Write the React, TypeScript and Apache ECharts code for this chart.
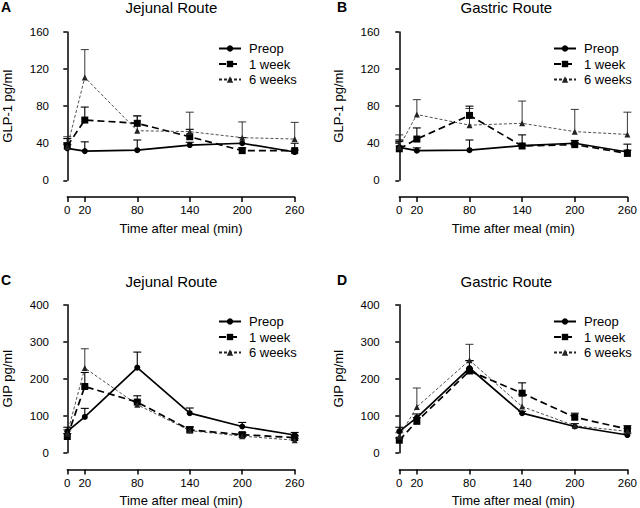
import React, { useEffect, useRef } from "react";
import * as echarts from "echarts";

const times = [0, 20, 80, 140, 200, 260];
const xTicks = [0, 20, 80, 140, 200, 260];
const seriesNames = ["Preop", "1 week", "6 weeks"];

// Panel A: GLP-1, jejunal route
const glpJejPreop = [34.5, 31.5, 32.5, 38, 40, 30.5];
const glpJejPreopErr = [4, 10, 11, 3, 6, 2];
const glpJejWeek1 = [37, 65, 61.5, 47, 32, 32];
const glpJejWeek1Err = [8, 14, 8, 8, 3, 8];
const glpJejWeek6 = [36, 111, 53.5, 52.5, 46, 44.5];
const glpJejWeek6Err = [11, 30, 16, 21, 17, 18];

// Panel B: GLP-1, gastric route
const glpGasPreop = [35.5, 32, 32.5, 37.5, 40, 30.5];
const glpGasPreopErr = [8, 3, 11, 11.5, 3, 2];
const glpGasWeek1 = [34, 44.5, 70, 37, 38.5, 29];
const glpGasWeek1Err = [8, 12, 10, 2, 2, 10];
const glpGasWeek6 = [36, 71, 59.5, 61.5, 52.5, 49.5];
const glpGasWeek6Err = [13, 16, 18, 24, 24, 24];

// Panel C: GIP, jejunal route
const gipJejPreop = [58, 97, 230, 107, 71, 48];
const gipJejPreopErr = [11, 23, 42, 14, 11, 7];
const gipJejWeek1 = [44, 179, 137, 62, 49, 41];
const gipJejWeek1Err = [8, 38, 17, 7, 6, 5];
const gipJejWeek6 = [52, 229, 130, 60, 45, 34];
const gipJejWeek6Err = [10, 52, 10, 11, 6, 5];

// Panel D: GIP, gastric route
const gipGasPreop = [58, 95, 229, 107, 71, 48];
const gipGasPreopErr = [11, 10, 20, 5, 8, 5];
const gipGasWeek1 = [34, 85, 221, 161, 96, 64];
const gipGasWeek1Err = [6, 10, 28, 28, 11, 9];
const gipGasWeek6 = [44, 124, 250, 125, 73, 58];
const gipGasWeek6Err = [10, 51, 43, 33, 6, 8];

const FONT = "Liberation Sans, Arial, sans-serif";

type Panel = {
  letter: string;
  title: string;
  yName: string;
  yMax: number;
  yInterval: number;
  left: number;
  top: number;
  vals: number[][];
  errs: number[][];
};

const panels: Panel[] = [
  { letter: "A", title: "Jejunal Route", yName: "GLP-1 pg/ml", yMax: 160, yInterval: 40, left: 0, top: 0,
    vals: [glpJejPreop, glpJejWeek1, glpJejWeek6], errs: [glpJejPreopErr, glpJejWeek1Err, glpJejWeek6Err] },
  { letter: "B", title: "Gastric Route", yName: "GLP-1 pg/ml", yMax: 160, yInterval: 40, left: 1, top: 0,
    vals: [glpGasPreop, glpGasWeek1, glpGasWeek6], errs: [glpGasPreopErr, glpGasWeek1Err, glpGasWeek6Err] },
  { letter: "C", title: "Jejunal Route", yName: "GIP pg/ml", yMax: 400, yInterval: 100, left: 0, top: 1,
    vals: [gipJejPreop, gipJejWeek1, gipJejWeek6], errs: [gipJejPreopErr, gipJejWeek1Err, gipJejWeek6Err] },
  { letter: "D", title: "Gastric Route", yName: "GIP pg/ml", yMax: 400, yInterval: 100, left: 1, top: 1,
    vals: [gipGasPreop, gipGasWeek1, gipGasWeek6], errs: [gipGasPreopErr, gipGasWeek1Err, gipGasWeek6Err] },
];

const styles = [
  { symbol: "circle", symbolSize: 6, line: { color: "#000", width: 1.7, type: "solid" as any }, errW: 1.1 },
  { symbol: "rect", symbolSize: 7, line: { color: "#000", width: 1.7, type: [7, 4] as any }, errW: 1.1 },
  { symbol: "triangle", symbolSize: 6, line: { color: "#222", width: 0.8, type: [3, 2] as any }, errW: 0.9 },
];

export default function App() {
  const ref = useRef<HTMLDivElement>(null);
  useEffect(() => {
    if (!ref.current) return;
    const chart = echarts.init(ref.current, undefined, { renderer: "svg" });

    const grids: any[] = [];
    const xAxes: any[] = [];
    const yAxes: any[] = [];
    const series: any[] = [];
    const legends: any[] = [];
    const graphics: any[] = [];

    panels.forEach((p, pi) => {
      const gx = p.left === 0 ? 63.3 : 399.3;
      const gw = p.left === 0 ? 231.4 : 230.7;
      const gy = p.top === 0 ? 32 : 304.7;
      const gh = 148.3;
      const axisX = p.left === 0 ? 48 : 382.7;
      grids.push({ left: gx, top: gy, width: gw, height: gh, containLabel: false });
      xAxes.push({
        type: "value", gridIndex: pi, min: 0, max: 260, offset: 16.7,
        name: "Time after meal (min)", nameLocation: "middle", nameGap: 24.5,
        nameTextStyle: { fontFamily: FONT, fontSize: 13, color: "#000" },
        axisLine: { show: true, onZero: false, lineStyle: { color: "#000", width: 1.5 } },
        axisTick: { show: true, length: 5, lineStyle: { color: "#000", width: 1.5 }, customValues: xTicks },
        axisLabel: { customValues: xTicks, fontFamily: FONT, fontSize: 11.5, color: "#000", margin: 7 },
        splitLine: { show: false },
      });
      yAxes.push({
        type: "value", gridIndex: pi, min: 0, max: p.yMax, interval: p.yInterval, offset: gx - axisX,
        name: p.yName, nameLocation: "middle", nameGap: 38, nameRotate: 90,
        nameTextStyle: { fontFamily: FONT, fontSize: 13, color: "#000" },
        axisLine: { show: true, lineStyle: { color: "#000", width: 1.5 } },
        axisTick: { show: true, length: 4, lineStyle: { color: "#000", width: 1.5 } },
        axisLabel: { fontFamily: FONT, fontSize: 11.5, color: "#000", margin: 3 },
        splitLine: { show: false },
      });
      p.vals.forEach((vals, si) => {
        const st = styles[si];
        const errs = p.errs[si];
        series.push({
          type: "custom", xAxisIndex: pi, yAxisIndex: pi, z: 3,
          data: times.map((t, i) => [t, vals[i], errs[i]]),
          encode: { x: 0, y: 1 },
          renderItem: (params: any, api: any) => {
            const x = api.value(0), y = api.value(1), e = api.value(2);
            const p0 = api.coord([x, y]);
            const p1 = api.coord([x, y + e]);
            const hw = 4;
            const s = { stroke: st.line.color, lineWidth: st.errW };
            return {
              type: "group",
              children: [
                { type: "line", shape: { x1: p0[0], y1: p0[1], x2: p1[0], y2: p1[1] }, style: s },
                { type: "line", shape: { x1: p1[0] - hw, y1: p1[1], x2: p1[0] + hw, y2: p1[1] }, style: s },
              ],
            };
          },
        });
        series.push({
          type: "line", name: seriesNames[si], xAxisIndex: pi, yAxisIndex: pi, z: 4,
          data: times.map((t, i) => [t, vals[i]]),
          symbol: st.symbol, symbolSize: st.symbolSize, showSymbol: true,
          itemStyle: { color: st.line.color },
          lineStyle: { color: st.line.color, width: st.line.width, type: st.line.type },
          emphasis: { disabled: true },
        });
      });
      legends.push({
        orient: "vertical",
        left: p.left === 0 ? 213 : 548,
        top: p.top === 0 ? 37 : 310,
        itemWidth: 22, itemHeight: 8, itemGap: 2.5,
        data: seriesNames,
        textStyle: { fontFamily: FONT, fontSize: 13, color: "#000", padding: [0, 0, 0, 3] },
        selectedMode: false,
      });
      graphics.push({
        type: "text", left: p.left === 0 ? 1 : 337, top: (p.top === 0 ? 0 : 273),
        style: { text: p.letter, font: "bold 14px " + FONT, fill: "#000" },
      });
      graphics.push({
        type: "text", x: (axisX + gx + gw) / 2, y: p.top === 0 ? 7 : 281,
        style: { text: p.title, font: "15px " + FONT, fill: "#000", textAlign: "center", textVerticalAlign: "middle" },
      });
    });

    chart.setOption({
      animation: false,
      backgroundColor: "#fff",
      grid: grids,
      xAxis: xAxes,
      yAxis: yAxes,
      series,
      legend: legends,
      graphic: graphics,
    });
    return () => chart.dispose();
  }, []);
  return (
    <div
      ref={ref}
      style={{ position: "fixed", left: 0, top: 0, width: 640, height: 508, background: "#fff" }}
    />
  );
}
